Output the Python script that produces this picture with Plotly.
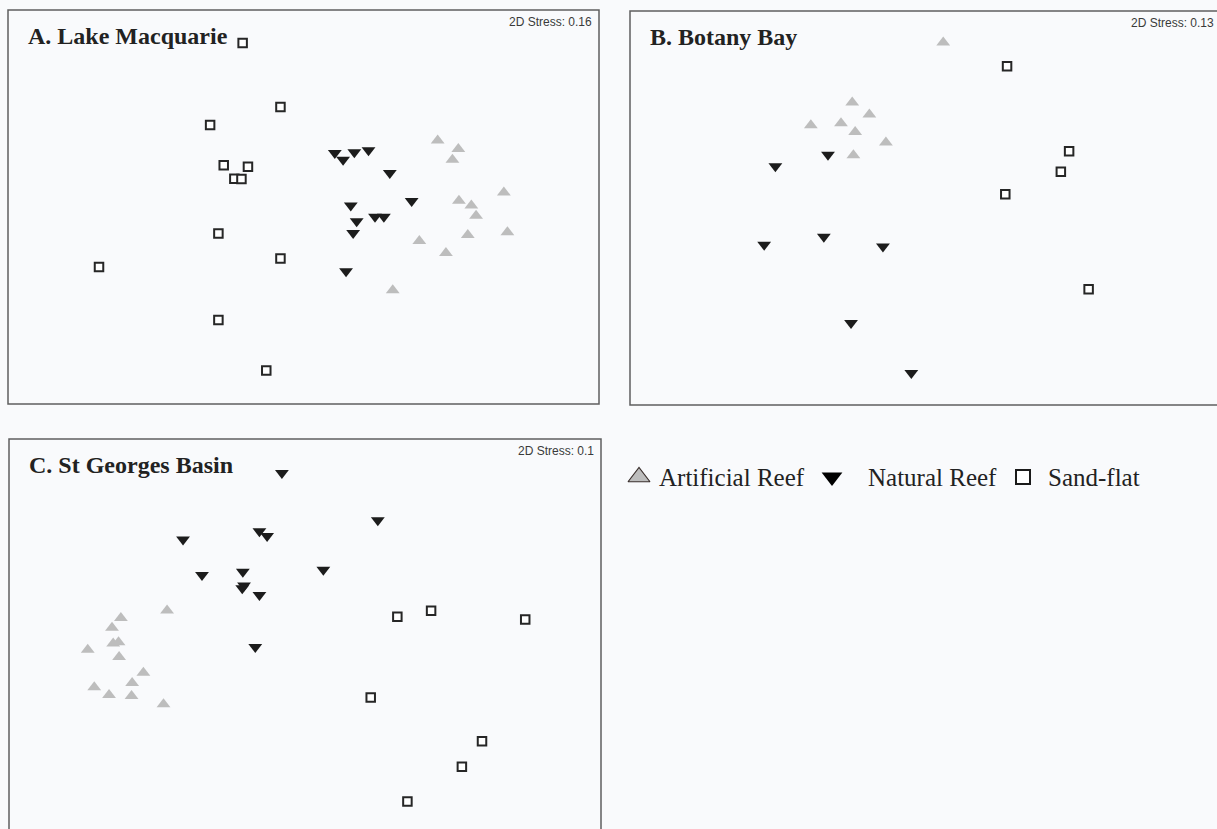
import plotly.graph_objects as go

W, H = 1217, 829

# ---- nMDS ordination scores (scaled to each panel's frame, 0..1) ----
# A. Lake Macquarie
lm_art_x = [0.727, 0.762, 0.752, 0.839, 0.763, 0.784, 0.792, 0.845, 0.778, 0.696, 0.741, 0.651]
lm_art_y = [0.669, 0.647, 0.620, 0.537, 0.516, 0.504, 0.478, 0.436, 0.429, 0.414, 0.383, 0.289]
lm_nat_x = [0.553, 0.567, 0.586, 0.610, 0.646, 0.683, 0.580, 0.590, 0.621, 0.636, 0.584, 0.572]
lm_nat_y = [0.637, 0.620, 0.639, 0.644, 0.586, 0.515, 0.504, 0.464, 0.475, 0.475, 0.434, 0.337]
lm_sand_x = [0.397, 0.461, 0.342, 0.365, 0.406, 0.383, 0.395, 0.356, 0.154, 0.461, 0.356, 0.437]
lm_sand_y = [0.916, 0.754, 0.708, 0.606, 0.602, 0.572, 0.571, 0.433, 0.348, 0.369, 0.213, 0.085]

# B. Botany Bay
bb_art_x = [0.530, 0.376, 0.405, 0.306, 0.357, 0.381, 0.433, 0.378]
bb_art_y = [0.920, 0.768, 0.737, 0.710, 0.715, 0.693, 0.666, 0.634]
bb_nat_x = [0.335, 0.246, 0.227, 0.328, 0.428, 0.374, 0.476]
bb_nat_y = [0.635, 0.606, 0.407, 0.427, 0.402, 0.208, 0.081]
bb_sand_x = [0.638, 0.743, 0.729, 0.635, 0.776]
bb_sand_y = [0.860, 0.644, 0.592, 0.535, 0.294]

# C. St Georges Basin
sg_art_x = [0.267, 0.189, 0.174, 0.176, 0.185, 0.133, 0.186, 0.227, 0.208, 0.144, 0.169, 0.207, 0.261]
sg_art_y = [0.565, 0.546, 0.521, 0.481, 0.484, 0.465, 0.447, 0.407, 0.381, 0.370, 0.350, 0.348, 0.327]
sg_nat_x = [0.461, 0.623, 0.423, 0.436, 0.294, 0.531, 0.326, 0.395, 0.397, 0.394, 0.423, 0.416]
sg_nat_y = [0.914, 0.794, 0.766, 0.754, 0.745, 0.668, 0.655, 0.663, 0.628, 0.621, 0.604, 0.472]
sg_sand_x = [0.656, 0.713, 0.872, 0.611, 0.799, 0.765, 0.673]
sg_sand_y = [0.549, 0.564, 0.542, 0.344, 0.233, 0.168, 0.080]

titles = ["A. Lake Macquarie", "B. Botany Bay", "C. St Georges Basin"]
stresses = ["2D Stress: 0.16", "2D Stress: 0.13", "2D Stress: 0.1"]
legend_labels = ["Artificial Reef", "Natural Reef", "Sand-flat"]

# ---- layout geometry (pixels) ----
BOX_H = 394
panels = [
    dict(left=8, top=10, right=599),      # A
    dict(left=630, top=11, right=1221),   # B (runs past the page edge)
    dict(left=9, top=439, right=601),     # C (runs past the page bottom)
]

BG = "#f9fafc"
ART_C = "#bdbdbd"
NAT_C = "#1c1c1c"
SAND_LINE = "#262626"
BORDER = "#5f5f5f"
SERIF = "Liberation Serif, Times New Roman, serif"
SANS = "Liberation Sans, Arial, sans-serif"


def px_x(p):
    return p / W


def px_y(p):
    return 1 - p / H


fig = go.Figure()

data_sets = [
    (lm_art_x, lm_art_y, lm_nat_x, lm_nat_y, lm_sand_x, lm_sand_y),
    (bb_art_x, bb_art_y, bb_nat_x, bb_nat_y, bb_sand_x, bb_sand_y),
    (sg_art_x, sg_art_y, sg_nat_x, sg_nat_y, sg_sand_x, sg_sand_y),
]

layout_axes = {}
shapes = []
annotations = []

for i, (pn, ds) in enumerate(zip(panels, data_sets)):
    n = i + 1
    xa = "x" if n == 1 else f"x{n}"
    ya = "y" if n == 1 else f"y{n}"
    bottom = pn["top"] + BOX_H
    width = pn["right"] - pn["left"]
    # visible part of the frame
    vis_left, vis_right = pn["left"], min(pn["right"], W)
    vis_top, vis_bottom = pn["top"], min(bottom, H)
    xr = [(vis_left - pn["left"]) / width, (vis_right - pn["left"]) / width]
    yr = [1 - (vis_bottom - pn["top"]) / BOX_H, 1 - (vis_top - pn["top"]) / BOX_H]
    axis_common = dict(visible=False, showgrid=False, zeroline=False, fixedrange=True)
    layout_axes["xaxis" if n == 1 else f"xaxis{n}"] = dict(
        domain=[px_x(vis_left), px_x(vis_right)], range=xr, anchor=ya, **axis_common)
    layout_axes["yaxis" if n == 1 else f"yaxis{n}"] = dict(
        domain=[px_y(vis_bottom), px_y(vis_top)], range=yr, anchor=xa, **axis_common)

    ax, ay, nx, ny, sx, sy = ds
    fig.add_trace(go.Scatter(
        x=ax, y=ay, mode="markers", xaxis=xa, yaxis=ya, showlegend=False,
        marker=dict(symbol="triangle-up", size=12, color=ART_C, line=dict(width=0)),
        cliponaxis=False))
    fig.add_trace(go.Scatter(
        x=nx, y=ny, mode="markers", xaxis=xa, yaxis=ya, showlegend=False,
        marker=dict(symbol="triangle-down", size=12, color=NAT_C, line=dict(width=0)),
        cliponaxis=False))
    fig.add_trace(go.Scatter(
        x=sx, y=sy, mode="markers", xaxis=xa, yaxis=ya, showlegend=False,
        marker=dict(symbol="square", size=8.5, color="white",
                    line=dict(width=2, color=SAND_LINE)),
        cliponaxis=False))

    # frame
    shapes.append(dict(type="rect", xref="paper", yref="paper",
                       x0=px_x(pn["left"]), x1=px_x(pn["right"]),
                       y0=px_y(bottom), y1=px_y(pn["top"]),
                       line=dict(color=BORDER, width=1.5), fillcolor="rgba(0,0,0,0)",
                       layer="above"))
    # panel title
    annotations.append(dict(
        text=f"<b>{titles[i]}</b>", xref="paper", yref="paper",
        x=px_x(pn["left"] + 18), y=px_y(pn["top"] + 26),
        xanchor="left", yanchor="middle", showarrow=False,
        font=dict(family=SERIF, size=24, color="#222222")))
    # stress value
    annotations.append(dict(
        text=stresses[i], xref="paper", yref="paper",
        x=px_x(pn["right"] - 5), y=px_y(pn["top"] + 12),
        xanchor="right", yanchor="middle", showarrow=False,
        font=dict(family=SANS, size=12, color="#3a3a3a")))

# ---- key ----
KEY_Y = 477
key_marker_x = [639, 832, 1023]
key_text_x = [657, 866, 1046]
layout_axes["xaxis4"] = dict(domain=[0, 1], range=[0, W], visible=False, fixedrange=True,
                             anchor="y4")
layout_axes["yaxis4"] = dict(domain=[0, 1], range=[H, 0], visible=False, fixedrange=True,
                             anchor="x4")
key_styles = [
    dict(symbol="triangle-up", size=19, color=ART_C, line=dict(width=1.2, color="#3a2f2c")),
    dict(symbol="triangle-down", size=18, color="#000000", line=dict(width=0)),
    dict(symbol="square", size=14, color="white", line=dict(width=2, color="#1a1a1a")),
]
for mx, tx, lab, st in zip(key_marker_x, key_text_x, legend_labels, key_styles):
    fig.add_trace(go.Scatter(x=[mx], y=[KEY_Y], mode="markers", xaxis="x4", yaxis="y4",
                             showlegend=False, marker=st, cliponaxis=False))
    annotations.append(dict(
        text=lab, xref="x4", yref="y4", x=tx, y=KEY_Y, xanchor="left", yanchor="middle",
        showarrow=False, font=dict(family=SERIF, size=25, color="#222222")))

fig.update_layout(
    width=W, height=H,
    margin=dict(l=0, r=0, t=0, b=0),
    paper_bgcolor=BG, plot_bgcolor="rgba(0,0,0,0)",
    shapes=shapes, annotations=annotations,
    showlegend=False,
    **layout_axes,
)

fig.write_html("out.html", config={"displayModeBar": False})
